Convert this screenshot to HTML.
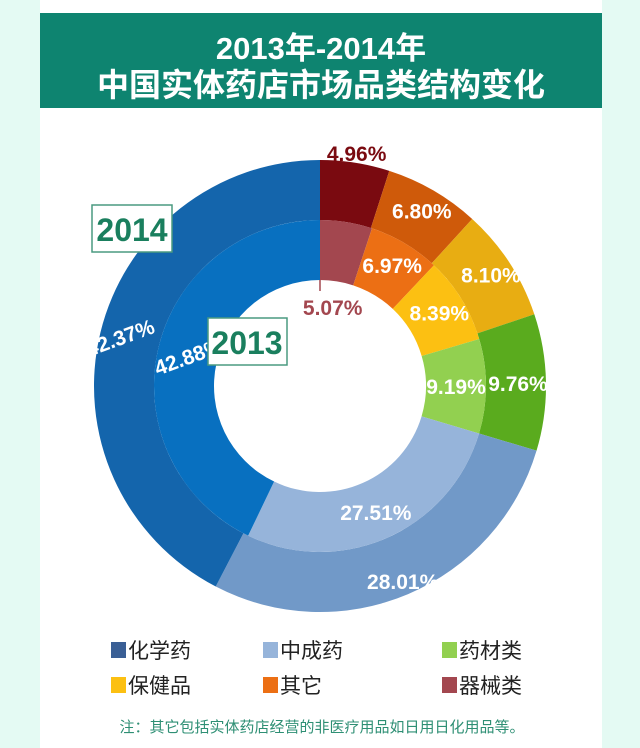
<!DOCTYPE html>
<html><head><meta charset="utf-8"><style>
body{margin:0;width:640px;height:748px;background:#e4faf3;font-family:"Liberation Sans","Noto Sans CJK SC",sans-serif;overflow:hidden}
svg{position:absolute;left:0;top:0}
</style></head><body>
<svg width="640" height="748" id="svg">
<rect x="40" y="0" width="562" height="748" fill="#ffffff"/>
<rect x="40" y="13" width="562" height="95" fill="#0e8470"/>
<text x="321" y="59" text-anchor="middle" fill="#fff" font-size="31" font-weight="bold">2013年-2014年</text>
<text x="321" y="96" text-anchor="middle" fill="#fff" font-size="32" font-weight="bold" font-family="Noto Sans CJK SC, sans-serif">中国实体药店市场品类结构变化</text>
<g id="rings"></g>
<g id="labels"></g>
<line x1="320" y1="280" x2="320" y2="291" stroke="#a3474f" stroke-width="1.5"/>
<rect x="92" y="205" width="80" height="47" fill="#fff" stroke="#4a9a80" stroke-width="1.5"/>
<text x="132" y="241" text-anchor="middle" fill="#1a7f5e" font-size="32" font-weight="bold">2014</text>
<rect x="208" y="318" width="79" height="47" fill="#fff" stroke="#4a9a80" stroke-width="1.5"/>
<text x="247" y="354" text-anchor="middle" fill="#1a7f5e" font-size="32" font-weight="bold">2013</text>
<g id="legend" font-size="21" font-family="Noto Sans CJK SC, sans-serif" fill="#222"></g>
<text x="322" y="732" text-anchor="middle" fill="#2e8f74" font-size="15" font-family="Noto Sans CJK SC, sans-serif">注：其它包括实体药店经营的非医疗用品如日用日化用品等。</text>
</svg>
<script>
const categories=["器械类","其它","保健品","药材类","中成药","化学药"];
const values2014=[4.96,6.80,8.10,9.76,28.01,42.37];
const values2013=[5.07,6.97,8.39,9.19,27.51,42.88];
const colors2014=["#7a0a10","#cf5a0a","#e8ad12","#5aab1e","#7199c8","#1465ac"];
const colors2013=["#a3474f","#ec6f14","#fcc012","#92d050","#96b4da","#0870c0"];
const legendOrder=["化学药","中成药","药材类","保健品","其它","器械类"];
const legendColors=["#3a5f95","#96b4da","#92d050","#fcc012","#ec6f14","#a3474f"];
const cx=320,cy=386;
const NS="http://www.w3.org/2000/svg";
const rings=document.getElementById('rings'),labels=document.getElementById('labels');
function pt(r,a){return [cx+r*Math.sin(a),cy-r*Math.cos(a)];}
function arc(r0,r1,a0,a1){const l=(a1-a0)>Math.PI?1:0;const p=[pt(r1,a0),pt(r1,a1),pt(r0,a1),pt(r0,a0)];
return `M${p[0]}A${r1},${r1} 0 ${l} 1 ${p[1]}L${p[2]}A${r0},${r0} 0 ${l} 0 ${p[3]}Z`;}
function ring(vals,cols,r0,r1,name,labR,offsets){
 const tot=vals.reduce((a,b)=>a+b,0);let a=0;
 vals.forEach((v,i)=>{const a1=a+v/tot*2*Math.PI;
  const p=document.createElementNS(NS,'path');p.setAttribute('d',arc(r0,r1,a,a1));p.setAttribute('fill',cols[i]);
  
  
  rings.appendChild(p);
  const m=(a+a1)/2;let [x,y]=pt(labR[i],m);
  const t=document.createElementNS(NS,'text');t.setAttribute('x',x);t.setAttribute('y',y+8);
  t.setAttribute('text-anchor','middle');t.setAttribute('font-size','21');t.setAttribute('font-weight','bold');
  t.setAttribute('fill',offsets[i]||'#fff');
  if(i==5)t.setAttribute('transform',`rotate(-20 ${x} ${y})`);
  t.textContent=v.toFixed(2)+'%';
  
  
  labels.appendChild(t);a=a1;});
}
ring(values2014,colors2014,166,226,'ring-2014',[236,203,204,198,212,206],['#7a0a10']);
ring(values2013,colors2013,106,166,'ring-2013',[80,141,140,136,138,135],['#a3474f']);
const lg=document.getElementById('legend');
const colX=[111,263,442],rowY=[650,685];
legendOrder.forEach((c,i)=>{const x=colX[i%3],y=rowY[Math.floor(i/3)];
 const r=document.createElementNS(NS,'rect');r.setAttribute('x',x);r.setAttribute('y',y-8);r.setAttribute('width',15);r.setAttribute('height',16);r.setAttribute('fill',legendColors[i]);
 
 
 lg.appendChild(r);
 const t=document.createElementNS(NS,'text');t.setAttribute('x',x+17);t.setAttribute('y',y+8);t.textContent=c;
 
 
 lg.appendChild(t);});
</script>
</body></html>
